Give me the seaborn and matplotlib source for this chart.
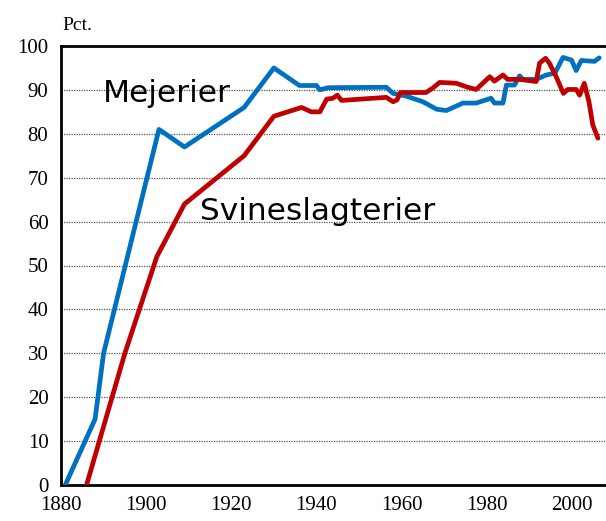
import matplotlib
matplotlib.use("Agg")
import matplotlib.pyplot as plt
import seaborn as sns
import pandas as pd

# Mejerier (dairies)
mej_years = [1881, 1888, 1890, 1903, 1909, 1923, 1930, 1936, 1940, 1940.8, 1942.7, 1956.4,
             1958, 1961, 1965, 1968.2, 1970.5, 1974.4, 1977.5, 1981, 1981.8, 1983.8,
             1984.6, 1986.5, 1987.7, 1988.5, 1991.6, 1994, 1996, 1997.9, 1999.9,
             2001, 2002.2, 2005.3, 2006.4]
mej_vals = [0, 15, 30, 81, 77, 86, 95, 91, 91, 90, 90.5, 90.6,
            89.2, 88.6, 87.3, 85.6, 85.3, 87, 87, 88.1, 87, 87,
            91.1, 91.1, 93.2, 92.4, 92.4, 93.4, 93.8, 97.4, 96.8,
            94.4, 96.7, 96.5, 97.3]

# Svineslagterier (pig slaughterhouses)
svi_years = [1886, 1895, 1902.5, 1909, 1923, 1930, 1936.5, 1938.8, 1940.8, 1942.4, 1943.9,
             1944.9, 1945.9, 1956.4, 1958, 1958.9, 1959.7, 1965.7, 1967.3, 1968.9,
             1971.3, 1972.9, 1975.2, 1977.5, 1980.7, 1981.8, 1983.8, 1984.9, 1987.7,
             1991.6, 1992.4, 1993.8, 1994.7, 1996.3, 1998, 1999, 2001, 2001.8, 2002.9,
             2004, 2004.9, 2006.1]
svi_vals = [0, 30, 52, 64, 75, 84, 86, 85, 85, 87.9, 88.1,
            88.8, 87.6, 88.3, 87.3, 87.7, 89.4, 89.4, 90.4, 91.7,
            91.6, 91.5, 90.7, 90.1, 93.0, 92.0, 93.4, 92.4, 92.4,
            91.9, 96.1, 97.2, 96.1, 93.0, 89.2, 90.1, 90.1, 88.8, 91.5,
            87.3, 82.0, 79.0]

labels = ["Mejerier", "Svineslagterier"]
x_ticks = [1880, 1900, 1920, 1940, 1960, 1980, 2000]
y_ticks = [0, 10, 20, 30, 40, 50, 60, 70, 80, 90, 100]

df = pd.concat([
    pd.DataFrame({"year": mej_years, "pct": mej_vals, "serie": labels[0]}),
    pd.DataFrame({"year": svi_years, "pct": svi_vals, "serie": labels[1]}),
])

sns.set_style("white")
plt.rcParams["font.family"] = ["Liberation Serif", "DejaVu Serif"]
plt.rcParams["text.color"] = "black"

fig = plt.figure(figsize=(6.06, 5.21), dpi=100)
ax = fig.add_axes([61 / 606, 1 - 485 / 521, 1 - 61 / 606, (485 - 46) / 521])

sns.lineplot(data=df, x="year", y="pct", hue="serie", sort=False,
             palette={labels[0]: "#0070C0", labels[1]: "#C00000"},
             linewidth=3.4, legend=False, ax=ax, zorder=3)

ax.set_xlim(1880, 2008)
ax.set_ylim(0, 100)
ax.set_xticks(x_ticks)
ax.set_yticks(y_ticks)
ax.set_xlabel("")
ax.set_ylabel("")
ax.tick_params(axis="both", direction="out", length=5, width=1.2, color="black",
               labelsize=15, labelcolor="black", pad=3)
ax.tick_params(axis="y", length=6)

for y in y_ticks[1:-1]:
    ax.axhline(y, color="#555555", linestyle=(0, (1, 1)), linewidth=0.9, zorder=1)

for side in ["left", "bottom", "top"]:
    ax.spines[side].set_visible(True)
    ax.spines[side].set_color("black")
    ax.spines[side].set_linewidth(2)
ax.spines["right"].set_visible(False)

ax.text(1889.9, 87.3, labels[0], family="DejaVu Sans", fontsize=22.5, color="black",
        ha="left", va="baseline", zorder=4)
ax.text(1912.6, 60.3, labels[1], family="DejaVu Sans", fontsize=22.5, color="black",
        ha="left", va="baseline", zorder=4)

fig.text(62 / 606, 1 - 30 / 521, "Pct.", fontsize=14, color="black",
         ha="left", va="baseline")

fig.savefig("out.png", dpi=100)
